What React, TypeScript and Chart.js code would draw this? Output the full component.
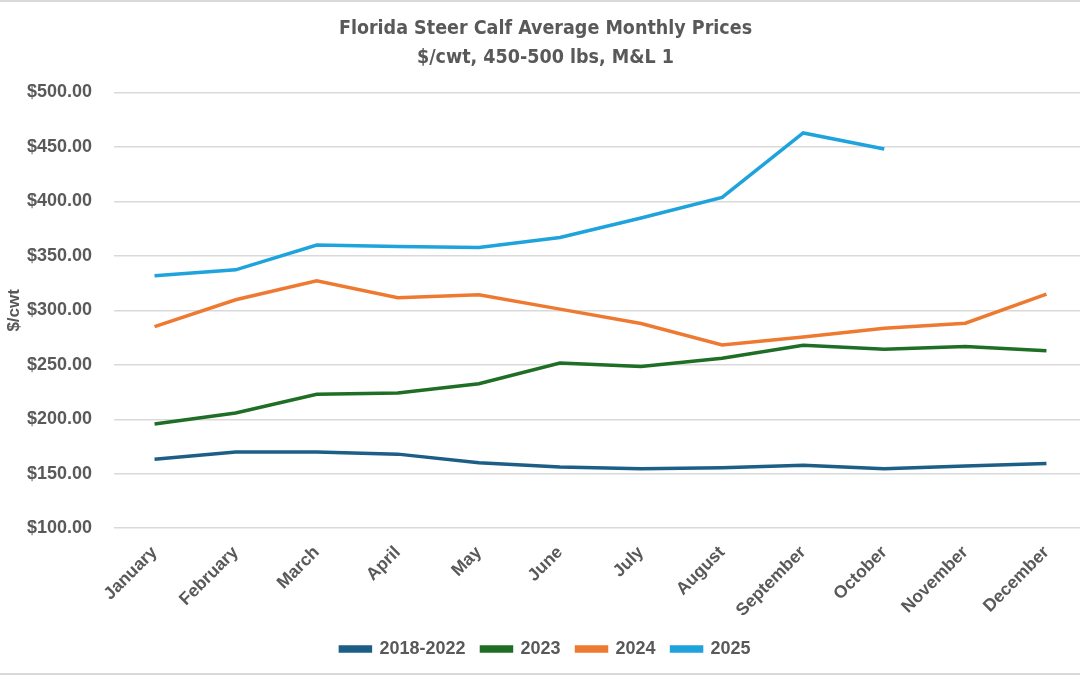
import React, { useEffect, useRef } from "react";
import { Chart, registerables } from "chart.js";

Chart.register(...registerables);

const months = [
  "January", "February", "March", "April", "May", "June",
  "July", "August", "September", "October", "November", "December",
];
const seriesNames = ["2018-2022", "2023", "2024", "2025"];
const avg2018to2022 = [163.2, 169.9, 169.9, 168.0, 160.0, 156.1, 154.6, 155.5, 157.9, 154.6, 157.0, 159.5];
const prices2023 = [195.6, 205.7, 222.9, 224.1, 232.7, 251.7, 248.4, 256.0, 268.0, 264.3, 266.7, 262.8];
const prices2024 = [285.1, 309.7, 327.1, 311.5, 314.3, 301.1, 287.9, 268.3, 275.6, 283.6, 288.2, 314.9];
const prices2025 = [331.7, 337.2, 360.0, 358.7, 357.8, 366.9, 384.8, 403.7, 462.9, 448.2, null, null];
const seriesColors = ["#1d5e86", "#1f6e25", "#ee7a32", "#1fa3dc"];

const GREY = "#595959";
const BOLD = "'Liberation Sans', Arial, sans-serif";

const App = () => {
  const chartRef = useRef<HTMLCanvasElement>(null);

  useEffect(() => {
    if (!chartRef.current) return;
    const allData = [avg2018to2022, prices2023, prices2024, prices2025];
    const chart = new Chart(chartRef.current, {
      type: "line",
      data: {
        labels: months,
        datasets: seriesNames.map((name, i) => ({
          label: name,
          data: allData[i],
          borderColor: seriesColors[i],
          backgroundColor: seriesColors[i],
          borderWidth: 3.5,
          pointRadius: 0,
          tension: 0,
        })),
      },
      options: {
        animation: false,
        responsive: false,
        devicePixelRatio: 1,
        layout: { padding: { left: 4, right: 10, top: 0, bottom: 7 } },
        plugins: {
          tooltip: { enabled: false },
          title: {
            display: true,
            text: ["Florida Steer Calf Average Monthly Prices", "$/cwt, 450-500 lbs, M&L 1"],
            color: GREY,
            font: { family: "'DejaVu Sans Condensed', 'Liberation Sans Narrow', sans-serif", size: 19.5, weight: "bold", lineHeight: 1.5 },
            padding: { top: 14, bottom: 20 },
          },
          legend: {
            position: "bottom",
            labels: {
              color: GREY,
              font: { family: BOLD, size: 18, weight: "bold" },
              boxWidth: 30,
              boxHeight: 4,
              padding: 16,
            },
          },
        },
        scales: {
          x: {
            offset: true,
            grid: { display: false },
            border: { display: false },
            ticks: {
              color: GREY,
              font: { family: BOLD, size: 17.5, weight: "bold" },
              maxRotation: 45,
              minRotation: 45,
              padding: 6,
            },
            afterFit: (scale) => {
              scale.paddingLeft = 0;
              scale.height -= 3;
            },
          },
          y: {
            min: 100,
            max: 500,
            grid: { color: "#d9d9d9", lineWidth: 1.5, drawTicks: false },
            border: { display: false },
            ticks: {
              stepSize: 50,
              color: GREY,
              padding: 22,
              font: { family: BOLD, size: 18, weight: "bold" },
              callback: (v) => "$" + Number(v).toFixed(2),
            },
            title: {
              display: true,
              text: "$/cwt",
              color: GREY,
              font: { family: BOLD, size: 17, weight: "bold" },
              padding: { top: 0, bottom: 2 },
            },
            // fixed axis width so the plot starts where the reference does
            afterFit: (scale) => {
              scale.width = 110;
            },
          },
        },
      },
    });
    return () => {
      chart.destroy();
    };
  }, []);

  return (
    <div style={{ position: "absolute", left: 0, top: 0, width: 1080, height: 675, overflow: "hidden", background: "#fff" }}>
      <canvas ref={chartRef} width={1097} height={675} style={{ display: "block" }} />
      <div style={{ position: "absolute", left: 0, top: 0, width: 1080, height: 2, background: "#d9d9d9" }} />
      <div style={{ position: "absolute", left: 0, bottom: 0, width: 1080, height: 2, background: "#d9d9d9" }} />
    </div>
  );
};

export default App;
